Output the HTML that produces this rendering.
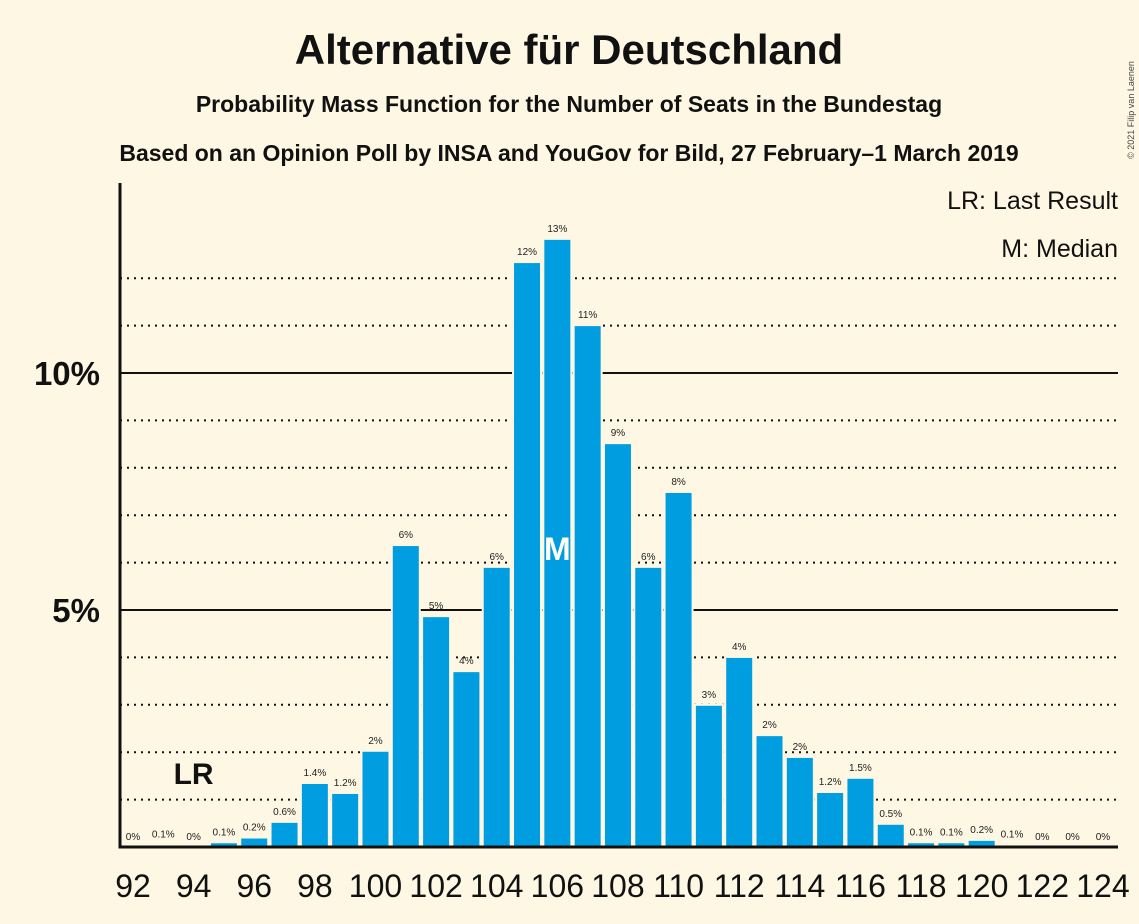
<!DOCTYPE html>
<html><head><meta charset="utf-8"><style>
body{margin:0;background:#fdf7e3;}
svg{display:block;font-family:"Liberation Sans",sans-serif;}
</style></head><body>
<svg id="c" width="1139" height="924">
<rect width="1139" height="924" fill="#fdf7e3"/>
<text x="569" y="64" text-anchor="middle" font-size="42" font-weight="bold" fill="#111">Alternative für Deutschland</text>
<text x="569" y="112" text-anchor="middle" font-size="23" font-weight="bold" fill="#111">Probability Mass Function for the Number of Seats in the Bundestag</text>
<text x="569" y="161" text-anchor="middle" font-size="23" font-weight="bold" fill="#111">Based on an Opinion Poll by INSA and YouGov for Bild, 27 February–1 March 2019</text>
<text x="1118" y="209" text-anchor="end" font-size="25" fill="#111">LR: Last Result</text>
<text x="1118" y="257" text-anchor="end" font-size="25" fill="#111">M: Median</text>
<text transform="translate(1134,110) rotate(-90)" text-anchor="middle" font-size="9" fill="#444">© 2021 Filip van Laenen</text>
<g id="grid"></g><g id="bars"></g><g id="labels"></g>
</svg>
<script>
const seats=[92,93,94,95,96,97,98,99,100,101,102,103,104,105,106,107,108,109,110,111,112,113,114,115,116,117,118,119,120,121,122,123,124];
const probs=[0,0.05,0,0.1,0.2,0.53,1.35,1.14,2.03,6.37,4.87,3.71,5.91,12.34,12.83,11.01,8.52,5.91,7.49,3.0,4.01,2.36,1.9,1.16,1.46,0.49,0.1,0.1,0.15,0.05,0,0,0];
const labels=["0%","0.1%","0%","0.1%","0.2%","0.6%","1.4%","1.2%","2%","6%","5%","4%","6%","12%","13%","11%","9%","6%","8%","3%","4%","2%","2%","1.2%","1.5%","0.5%","0.1%","0.1%","0.2%","0.1%","0%","0%","0%"];
const yTicks=[5,10];
const lastResult=94, median=106;
const NS="http://www.w3.org/2000/svg";
const x=s=>133+(s-92)*30.31;
const y=v=>847-v*47.4;
function mk(t,a,p){const e=document.createElementNS(NS,t);for(const k in a)e.setAttribute(k,a[k]);p.appendChild(e);return e;}
const grid=document.getElementById('grid'),bars=document.getElementById('bars'),lab=document.getElementById('labels');
for(let v=1;v<=12;v++){
  const solid=v%5===0;
  const l=mk('line',{x1:120,x2:1118,y1:y(v),y2:y(v),stroke:'#111','stroke-width':2,'stroke-dasharray':solid?'none':'2,5'},grid);
  
  
}
yTicks.forEach(v=>{
  const t=mk('text',{x:100,y:y(v)+12,'text-anchor':'end','font-size':33,'font-weight':'bold',fill:'#111'},lab);
  t.textContent=v+'%';
  
  
});
seats.forEach((s,i)=>{
  const v=probs[i];
  if(v>0){
    const r=mk('rect',{x:x(s)-14,y:y(v),width:28,height:847-y(v),fill:'#009de0',stroke:'#fdf7e3','stroke-width':2},bars);
    
    
  }
  const t=mk('text',{x:x(s),y:y(v)-7,'text-anchor':'middle','font-size':10,fill:'#222'},lab);
  t.textContent=labels[i];
  
  
  if(s%2===0){
    const xt=mk('text',{x:x(s),y:897,'text-anchor':'middle','font-size':32,fill:'#111'},lab);
    xt.textContent=s;
    
    
  }
});
const lr=mk('text',{x:x(lastResult),y:784,'text-anchor':'middle','font-size':30,'font-weight':'bold',fill:'#111'},lab);
lr.textContent='LR';


const m=mk('text',{x:x(median),y:560,'text-anchor':'middle','font-size':32,'font-weight':'bold',fill:'#fff'},lab);
m.textContent='M';


const ax=mk('path',{d:'M120 183 V847 H1118',fill:'none',stroke:'#111','stroke-width':3},lab);


</script>
</body></html>
